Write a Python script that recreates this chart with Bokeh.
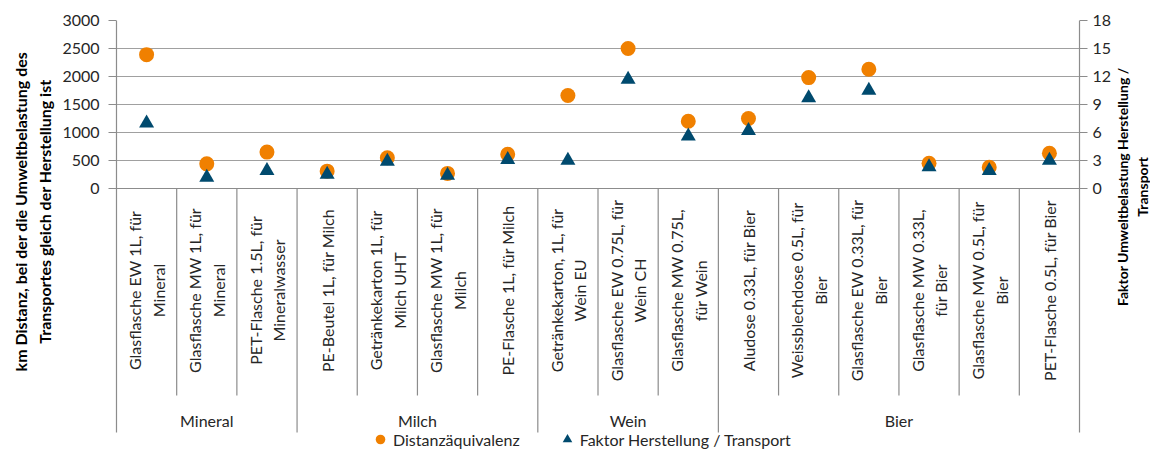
import math
from bokeh.plotting import figure
from bokeh.layouts import row
from bokeh.models import (Range1d, LinearAxis, FixedTicker, Legend, LegendItem,
                          ColumnDataSource)
from bokeh.core.properties import value
from bokeh.embed import file_html
from bokeh.resources import INLINE

# ---------------- data ----------------
groups = ["Mineral", "Milch", "Wein", "Bier"]
group_sizes = [3, 4, 3, 6]
categories = [
    "Glasflasche EW 1L, für\nMineral",
    "Glasflasche MW 1L, für\nMineral",
    "PET-Flasche 1.5L, für\nMineralwasser",
    "PE-Beutel 1L, für Milch",
    "Getränkekarton 1L, für\nMilch UHT",
    "Glasflasche MW 1L, für\nMilch",
    "PE-Flasche 1L, für Milch",
    "Getränkekarton, 1L, für\nWein EU",
    "Glasflasche EW 0.75L, für\nWein CH",
    "Glasflasche MW 0.75L,\nfür Wein",
    "Aludose 0.33L, für Bier",
    "Weissblechdose 0.5L, für\nBier",
    "Glasflasche EW 0.33L, für\nBier",
    "Glasflasche MW 0.33L,\nfür Bier",
    "Glasflasche MW 0.5L, für\nBier",
    "PET-Flasche 0.5L, für Bier",
]
distanz = [2390, 440, 650, 310, 550, 270, 610, 1660, 2500, 1200, 1250, 1980, 2130, 450, 380, 630]
faktor = [7.0, 1.2, 1.9, 1.5, 2.9, 1.4, 3.1, 3.0, 11.7, 5.6, 6.2, 9.7, 10.5, 2.3, 1.9, 3.0]
left_ticks = [0, 500, 1000, 1500, 2000, 2500, 3000]
right_ticks = [0, 3, 6, 9, 12, 15, 18]
series_names = ["Distanzäquivalenz", "Faktor Herstellung / Transport"]
left_title = "km Distanz, bei der die Umweltbelastung des\nTransportes gleich der Herstellung ist"
right_title = "Faktor Umweltbelastung Herstellung /\nTransport"

# ---------------- layout / style ----------------
W, H = 1150, 451
LW = 56                        # left title strip
RX = 1114                      # right title strip starts here
MW = RX - LW                   # main figure width
CAT_L, CAT_R = 116, 1082       # category area (page px)
PAD = 2
TOP, ZERO = 20, 188            # px of top tick and zero line
CAT_BOTTOM = 395
GROUP_BOTTOM = 432
CAT_LABEL_Y = 290
GROUP_LABEL_Y = 420
FONT = "Lato"
TEXT_C = "#262626"
AXIS_C = "#8C8C8C"
GRID_C = "#A0A0A0"
ORANGE = "#F08000"
BLUE = "#004A6E"

LEFT_MAX = left_ticks[-1]
RIGHT_MAX = right_ticks[-1]
PXU = (ZERO - TOP) / LEFT_MAX
n = len(categories)
CW = (CAT_R - CAT_L) / n


def yv(px):
    return (ZERO - px) / PXU


y_start = yv(H)
frame_l = CAT_L - PAD

p = figure(width=MW, height=H, output_backend="svg", toolbar_location=None, title=None,
           x_range=Range1d(-PAD / CW, n + PAD / CW), y_range=Range1d(y_start, LEFT_MAX),
           x_axis_location=None,
           min_border_left=frame_l - LW, min_border_right=RX - (CAT_R + PAD),
           min_border_top=TOP, min_border_bottom=0)
p.extra_y_ranges = {"right": Range1d(y_start * RIGHT_MAX / LEFT_MAX, RIGHT_MAX)}
p.outline_line_color = None
p.xgrid.visible = False
p.ygrid.ticker = FixedTicker(ticks=left_ticks[1:])
p.ygrid.grid_line_color = GRID_C
p.ygrid.grid_line_width = 1.2


def style_axis(ax, standoff):
    ax.axis_line_color = None
    ax.major_tick_line_color = AXIS_C
    ax.major_tick_in = 2
    ax.major_tick_out = 6
    ax.minor_tick_line_color = None
    ax.major_label_standoff = standoff
    ax.major_label_text_font = FONT
    ax.major_label_text_font_size = "16px"
    ax.major_label_text_color = TEXT_C


yl = p.yaxis[0]
yl.ticker = FixedTicker(ticks=left_ticks)
style_axis(yl, 9)

yr = LinearAxis(y_range_name="right", ticker=FixedTicker(ticks=right_ticks))
style_axis(yr, 5)
p.add_layout(yr, "right")

# separators / axis lines
bounds = [0]
for s in group_sizes:
    bounds.append(bounds[-1] + s)
sep_x = list(range(n + 1))
sep_top = [LEFT_MAX if i in (0, n) else 0 for i in sep_x]
sep_bot = [yv(GROUP_BOTTOM) if i in bounds else yv(CAT_BOTTOM) for i in sep_x]
p.segment(x0=sep_x, y0=sep_top, x1=sep_x, y1=sep_bot, line_color=AXIS_C, line_width=1.2)
p.segment(x0=[0], y0=[0], x1=[n], y1=[0], line_color=AXIS_C, line_width=1.2)

# points
xs = [i + 0.5 for i in range(n)]
src = ColumnDataSource(dict(x=xs, distanz=distanz, faktor=faktor))
r1 = p.scatter("x", "distanz", source=src, marker="circle", size=15,
               fill_color=ORANGE, line_color=None)
r2 = p.scatter("x", "faktor", source=src, marker="triangle", size=15,
               fill_color=BLUE, line_color=None, y_range_name="right")

# category labels
p.text(x=xs, y=[yv(CAT_LABEL_Y)] * n, text=categories, angle=math.pi / 2,
       text_align="center", text_baseline="middle", text_font=value(FONT),
       text_font_size="16px", text_color=TEXT_C, text_line_height=1.25)

gx = [(bounds[i] + bounds[i + 1]) / 2 for i in range(len(groups))]
p.text(x=gx, y=[yv(GROUP_LABEL_Y)] * len(groups), text=groups,
       text_align="center", text_baseline="middle", text_font=value(FONT),
       text_font_size="16px", text_color=TEXT_C)

legend = Legend(items=[LegendItem(label=series_names[0], renderers=[r1]),
                       LegendItem(label=series_names[1], renderers=[r2])],
                orientation="horizontal", location=(367 - frame_l, 0),
                glyph_width=26, glyph_height=24, label_standoff=0, spacing=34,
                padding=0, margin=0, border_line_color=None, background_fill_alpha=0,
                label_text_font=FONT, label_text_font_size="16px", label_text_color=TEXT_C)
p.add_layout(legend, "center")


# ---------------- title strips ----------------
def strip(width):
    f = figure(width=width, height=H, output_backend="svg", toolbar_location=None,
               title=None, x_range=Range1d(0, width), y_range=Range1d(0, H),
               x_axis_location=None, y_axis_location=None, min_border=0)
    f.outline_line_color = None
    f.xgrid.visible = False
    f.ygrid.visible = False
    return f


lt = strip(LW)
lt.text(x=[32], y=[H - 200], text=[left_title], angle=math.pi / 2,
        text_align="center", text_baseline="middle", text_font=value(FONT),
        text_font_style="bold", text_font_size="16px", text_color="#000000",
        text_line_height=1.25)

rt = strip(W - RX)
rt.text(x=[(W - RX) / 2], y=[H - 174], text=[right_title], angle=math.pi / 2,
        text_align="center", text_baseline="middle", text_font=value(FONT),
        text_font_style="bold", text_font_size="14px", text_color="#000000",
        text_line_height=1.15)

layout = row(lt, p, rt, spacing=0)
open("out.html", "w").write(file_html(layout, INLINE))
